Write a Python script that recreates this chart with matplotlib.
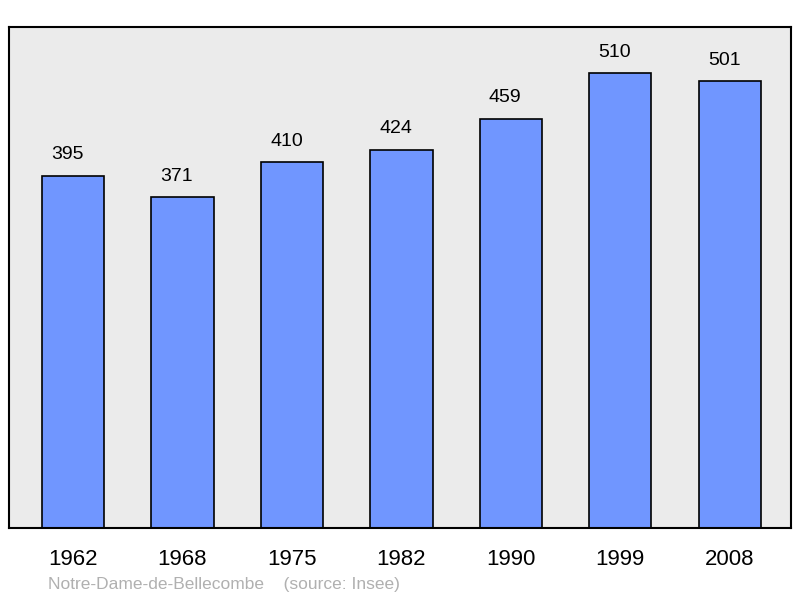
import matplotlib
matplotlib.use("Agg")
import matplotlib.pyplot as plt

# population data
years = ['1962', '1968', '1975', '1982', '1990', '1999', '2008']
population = [395, 371, 410, 424, 459, 510, 501]

fig = plt.figure(figsize=(8, 5.98), dpi=100)
ax = fig.add_axes([9/800, 1 - 528/598, 782/800, 501/598])
ax.set_facecolor('#ebebeb')

x = range(len(years))
ax.bar(x, population, width=0.57, color='#7096ff', edgecolor='black', linewidth=1.2, zorder=2)
for xi, v in zip(x, population):
    ax.text(xi - 0.05, v + 14, str(v), ha='center', va='bottom', fontsize=14,
            family='Liberation Sans')

ax.set_xlim(-0.584, 6.56)
ax.set_ylim(0, 561.6)
ax.set_xticks(list(x))
ax.set_xticklabels(years, fontsize=16, family='Liberation Sans')
ax.tick_params(axis='x', length=0, pad=15)
ax.set_yticks([])
for s in ax.spines.values():
    s.set_linewidth(1.5)

fig.text(48/800, 1 - 584/598, 'Notre-Dame-de-Bellecombe    (source: Insee)',
         fontsize=12.5, color='#b0b0b0', va='center', family='Liberation Sans')

fig.savefig('out.png', dpi=100)
